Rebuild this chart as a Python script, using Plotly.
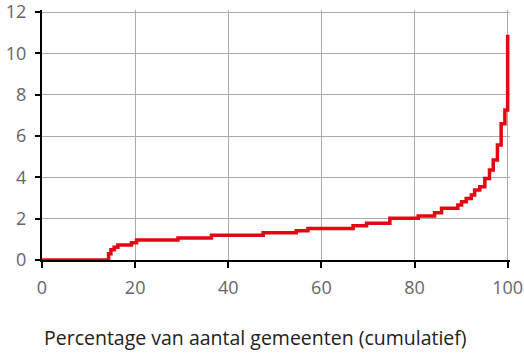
import plotly.graph_objects as go

# Cumulative share of municipalities (%) and value at which each step starts
pct = [0, 14.3, 14.8, 15.5, 16.3, 19.2, 20.3, 29.2, 36.4, 47.5, 54.6, 57.1, 66.8, 69.7,
       74.7, 80.8, 84.3, 85.8, 89.3, 90.1, 91.1, 92.2, 92.9, 94.0, 95.1, 96.1, 96.9,
       97.8, 98.6, 99.4, 100]
value = [0, 0.3, 0.5, 0.62, 0.72, 0.84, 0.97, 1.07, 1.2, 1.32, 1.42, 1.53, 1.66, 1.78,
         2.02, 2.13, 2.29, 2.5, 2.66, 2.82, 2.98, 3.15, 3.39, 3.55, 3.95, 4.35, 4.84,
         5.57, 6.6, 7.26, 10.9]

x_ticks = [0, 20, 40, 60, 80, 100]
y_ticks = [0, 2, 4, 6, 8, 10, 12]
x_title = "Percentage van aantal gemeenten (cumulatief)"

fig = go.Figure()
fig.add_trace(go.Scatter(
    x=pct, y=value, mode="lines", line=dict(color="#e30613", width=3.5, shape="hv"),
    cliponaxis=False, showlegend=False, hoverinfo="skip"))

font_family = "Open Sans, Lato, sans-serif"
fig.update_layout(
    width=524, height=353,
    margin=dict(l=42, r=14, t=10, b=93, autoexpand=False),
    paper_bgcolor="white", plot_bgcolor="white",
    font=dict(family=font_family, size=17, color="#666666"),
    annotations=[dict(
        text=x_title, xref="paper", yref="paper", x=0.457, y=-0.31,
        xanchor="center", yanchor="middle", showarrow=False,
        font=dict(family=font_family, size=19.5, color="#222222"))],
)
fig.update_xaxes(
    range=[0, 100.5], tickvals=x_ticks, ticktext=[str(v) for v in x_ticks],
    showgrid=True, gridcolor="#aaaaaa", gridwidth=1,
    showline=True, linecolor="black", linewidth=2,
    ticks="outside", ticklen=6, tickwidth=2, tickcolor="black",
    tickfont=dict(size=18, color="#666666"), ticklabelstandoff=4,
    ticklabeloverflow="allow",
    zeroline=False, layer="below traces", automargin=False,
)
fig.update_yaxes(
    range=[0, 12.1], tickvals=y_ticks, ticktext=[str(v) for v in y_ticks],
    showgrid=True, gridcolor="#aaaaaa", gridwidth=1,
    showline=True, linecolor="black", linewidth=2,
    ticks="outside", ticklen=5, tickwidth=2, tickcolor="black",
    tickfont=dict(size=18, color="#666666"), ticklabelstandoff=5,
    ticklabeloverflow="allow",
    zeroline=False, layer="below traces", automargin=False,
)

fig.write_html("out.html")
